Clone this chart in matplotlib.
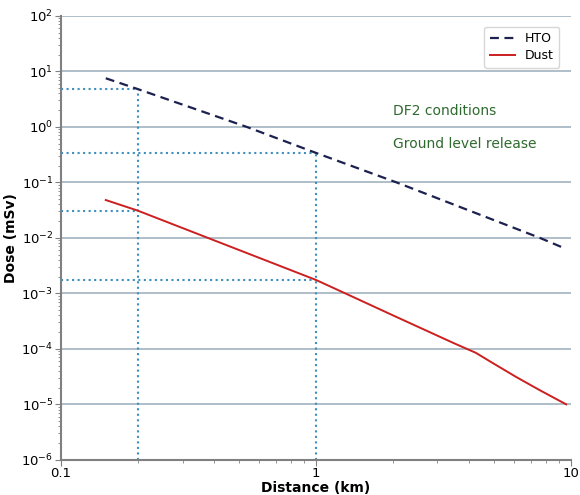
import matplotlib.pyplot as plt
import numpy as np

# HTO dose vs distance (km, mSv)
hto_dist = [0.15, 0.2, 0.535, 1.0, 2.07, 7.56, 9.6]
hto_dose = [7.5, 4.8, 1.0, 0.34, 0.1, 0.01, 0.0063]

# Dust dose vs distance (km, mSv)
dust_dist = [0.15, 0.2, 1.0, 1.33, 2.06, 3.5, 4.24, 4.96, 6.12, 7.56, 9.6]
dust_dose = [0.048, 0.031, 0.00175, 9.6e-4, 3.8e-4, 1.25e-4, 8.5e-5, 5.5e-5, 3.1e-5, 1.8e-5, 1e-5]

# reference distances picked out with dotted guides
ref_dist = [0.2, 1.0]

xmin, xmax = 0.1, 10
ymin, ymax = 1e-6, 1e2

fig = plt.figure(figsize=(5.8, 4.95), dpi=100)
ax = fig.add_axes([0.105, 0.071, 0.879, 0.897])

ax.set_xscale('log')
ax.set_yscale('log')
ax.set_xlim(xmin, xmax)
ax.set_ylim(ymin, ymax)

grid_c = '#a9b9c6'
ax.yaxis.grid(True, which='major', color=grid_c, lw=1.3)
ax.set_axisbelow(True)

guide_c = '#3d8fbd'
for d in ref_dist:
    h = np.interp(np.log10(d), np.log10(hto_dist), np.log10(hto_dose))
    s = np.interp(np.log10(d), np.log10(dust_dist), np.log10(dust_dose))
    ax.plot([d, d], [ymin, 10**h], ls=':', color=guide_c, lw=1.5)
    ax.plot([xmin, d], [10**h, 10**h], ls=':', color=guide_c, lw=1.5)
    ax.plot([xmin, d], [10**s, 10**s], ls=':', color=guide_c, lw=1.5)

ax.plot(hto_dist, hto_dose, ls=(0, (4, 2.5)), color='#1c2150', lw=1.6, label='HTO')
ax.plot(dust_dist, dust_dose, '-', color='#cc1f1f', lw=1.4, label='Dust')

ax.text(2.0, 1.9, 'DF2 conditions', color='#2f6a2f', fontsize=10, va='center')
ax.text(2.0, 0.49, 'Ground level release', color='#2f6a2f', fontsize=10, va='center')

ax.set_xticks([0.1, 1, 10])
ax.set_xticklabels(['0.1', '1', '10'])
ax.set_yticks([10.0**k for k in range(-6, 3)])

for sp in ['top', 'right']:
    ax.spines[sp].set_visible(False)
for sp in ['left', 'bottom']:
    ax.spines[sp].set_color('#808080')
    ax.spines[sp].set_linewidth(1.5)
ax.tick_params(which='both', colors='#808080', labelcolor='black', labelsize=9.5)
ax.tick_params(which='major', length=4, pad=1.5)
ax.tick_params(which='minor', length=2)

ax.set_xlabel('Distance (km)', fontweight='bold', fontsize=10)
ax.set_ylabel('Dose (mSv)', fontweight='bold', fontsize=10)
ax.xaxis.set_label_coords(0.5, -0.047)
ax.yaxis.set_label_coords(-0.085, 0.5)

leg = ax.legend(loc='upper right', fontsize=9, handlelength=2.0, borderpad=0.45,
                labelspacing=0.3, bbox_to_anchor=(0.99, 0.99))
leg.get_frame().set_edgecolor('#cccccc')

fig.savefig('out.png', dpi=100)
